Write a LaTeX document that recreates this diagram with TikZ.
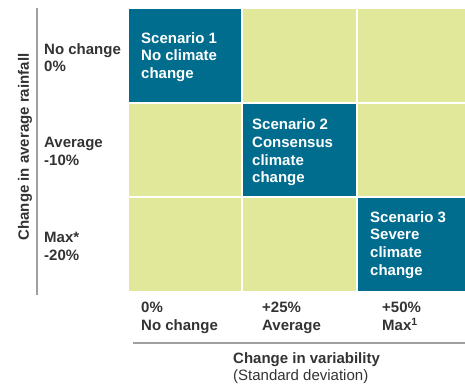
\documentclass[tikz,border=0pt]{standalone}
\usepackage{fontspec}
\setmainfont{Liberation Sans}
\definecolor{teal1}{RGB}{0,109,143}
\definecolor{lime1}{RGB}{226,232,154}
\definecolor{txt}{RGB}{51,51,51}
\definecolor{rule}{RGB}{160,160,160}
\tikzset{
  cell/.style={fill=lime1, draw=none},
  scen/.style={fill=teal1, draw=none},
  lbl/.style={anchor=north west, inner sep=0pt, align=left, text=txt,
    font=\fontsize{15}{17.8}\selectfont\bfseries},
  scentext/.style={lbl, text=white},
  axis/.style={draw=rule, line width=1.2pt}
}
\begin{document}
\begin{tikzpicture}[x=1pt,y=-1pt]
\useasboundingbox (0,0) rectangle (465,383);
% grid cells
\fill[scen] (129,9) rectangle (241,102);
\fill[cell] (243,9) rectangle (356,102);
\fill[cell] (358,9) rectangle (465,102);
\fill[cell] (129,104) rectangle (241,196);
\fill[scen] (243,104) rectangle (356,196);
\fill[cell] (358,104) rectangle (465,196);
\fill[cell] (129,198) rectangle (241,291);
\fill[cell] (243,198) rectangle (356,291);
\fill[scen] (358,198) rectangle (465,291);
% scenario texts
\node[scentext] (s1) at (141,32) {Scenario 1\\No climate\\change};
\node[scentext] (s2) at (252,118.5) {Scenario 2\\Consensus\\climate\\change};
\node[scentext] (s3) at (370,211) {Scenario 3\\Severe\\climate\\change};
% axis lines
\coordinate (vt) at (37,8);
\coordinate (vb) at (37,295);
\coordinate (hl) at (133,343);
\coordinate (hr) at (465,343);
\draw[axis] (vt) -- (vb);
\draw[axis] (hl) -- (hr);
% row labels
\node[lbl] (r1) at (44,43) {No change\\0\%};
\node[lbl] (r2) at (44,137) {Average\\-10\%};
\node[lbl] (r3) at (44,232) {Max*\\-20\%};
% column labels
\node[lbl] (c1) at (141,302) {0\%\\No change};
\node[lbl] (c2) at (262,302) {+25\%\\Average};
\node[lbl] (c3) at (382,302) {+50\%\\Max\textsuperscript{1}};
% axis titles
\node[lbl, font=\fontsize{15}{17.8}\selectfont] (xt) at (233,352) {\textbf{Change in variability}\\(Standard deviation)};
\node[lbl, anchor=center, rotate=90] (yt) at (25,147) {Change in average rainfall};
\end{tikzpicture}
\end{document}
